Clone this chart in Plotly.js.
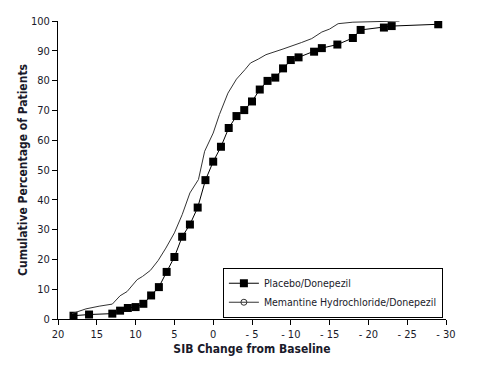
<!DOCTYPE html>
<html><head><meta charset="utf-8">
<script src="https://cdn.plot.ly/plotly-3.0.1.min.js"></script>
<style>body{margin:0;background:#fff}#c{width:483px;height:365px}</style>
</head><body><div id="c"></div>
<script>
const placeboX = [18,16,13,12,11,10,9,8,7,6,5,4,3,2,1,0,-1,-2,-3,-4,-5,-6,-7,-8,-9,-10,-11,-13,-14,-16,-18,-19,-22,-23,-29];
const placeboY = [1.1,1.5,1.8,2.8,3.7,4.0,5.1,7.9,10.7,15.8,20.8,27.6,31.7,37.4,46.6,52.8,57.8,64.1,68.1,70.1,73.0,77.0,79.9,81.0,84.1,86.9,87.8,89.7,90.9,92.1,94.3,97.0,97.8,98.3,98.9];
const memX = [18.2,16.4,14.7,13.4,13,12,11.1,9.8,9.1,8.1,7.1,6.1,5.0,4.0,3.0,1.9,1.1,0,-0.8,-1.9,-3.0,-4.1,-4.8,-5.8,-6.8,-9.0,-10.1,-11.4,-12.7,-14.0,-15.0,-16.1,-18,-24];
const memY = [1.8,3.4,4.3,5.0,5.0,7.8,9.2,13.2,14.3,16.3,19.6,23.8,28.9,35.0,42.3,46.8,56.3,62.4,68.6,75.8,80.5,83.7,85.9,87.2,88.7,90.6,91.5,92.8,94.1,96.3,97.3,99.1,99.6,100];
const xTickVals = [20,15,10,5,0,-5,-10,-15,-20,-25,-30];
const xTickText = ['20','15','10','5','0','- 5','- 10','- 15','- 20','- 25','- 30'];
const yTickVals = [0,10,20,30,40,50,60,70,80,90,100];
const seriesNames = ['Placebo/Donepezil','Memantine Hydrochloride/Donepezil'];

const fam = '"DejaVu Sans Condensed", "Liberation Sans Narrow", sans-serif';
const data = [
  {x: placeboX, y: placeboY, name: seriesNames[0], mode: 'lines+markers', type: 'scatter',
   line: {color: '#000', width: 1}, marker: {symbol: 'square', size: 8, color: '#000'}},
  {x: memX, y: memY, name: seriesNames[1], mode: 'lines', type: 'scatter', showlegend: false,
   line: {color: '#333', width: 1}},
  {x: [null], y: [null], name: seriesNames[1], mode: 'lines+markers', type: 'scatter',
   line: {color: '#333', width: 1}, marker: {symbol: 'circle-open', size: 6, color: '#333', line: {width: 1}}}
];
const layout = {
  width: 483, height: 365,
  margin: {l: 58, r: 37, t: 21, b: 46, autoexpand: false},
  paper_bgcolor: '#fff', plot_bgcolor: '#fff',
  font: {family: fam, size: 11, color: '#1a1a2a'},
  showlegend: true,
  legend: {x: 0.992, y: 0.172, xanchor: 'right', yanchor: 'top', bordercolor: '#000', borderwidth: 1,
    bgcolor: '#fff', font: {family: fam, size: 10.5, color: '#1a1a2a'}, itemwidth: 30, tracegroupgap: 0},
  xaxis: {range: [20, -30], tickvals: xTickVals, ticktext: xTickText, showgrid: false, zeroline: false,
    showline: true, linecolor: '#000', linewidth: 1, ticks: 'outside', ticklen: 5, tickcolor: '#000',
    tickfont: {family: fam, size: 11}, automargin: false,
    title: {text: 'SIB Change from Baseline', font: {family: fam, size: 12, weight: 'bold'}, standoff: 4}},
  yaxis: {range: [0, 100], tickvals: yTickVals, showgrid: false, zeroline: false,
    showline: true, linecolor: '#000', linewidth: 1, ticks: 'outside', ticklen: 5, tickcolor: '#000',
    tickfont: {family: fam, size: 11}, automargin: false,
    title: {text: 'Cumulative Percentage of Patients', font: {family: fam, size: 12, weight: 'bold'}, standoff: 0}}
};
Plotly.newPlot('c', data, layout, {displayModeBar: false, staticPlot: true});
</script></body></html>
